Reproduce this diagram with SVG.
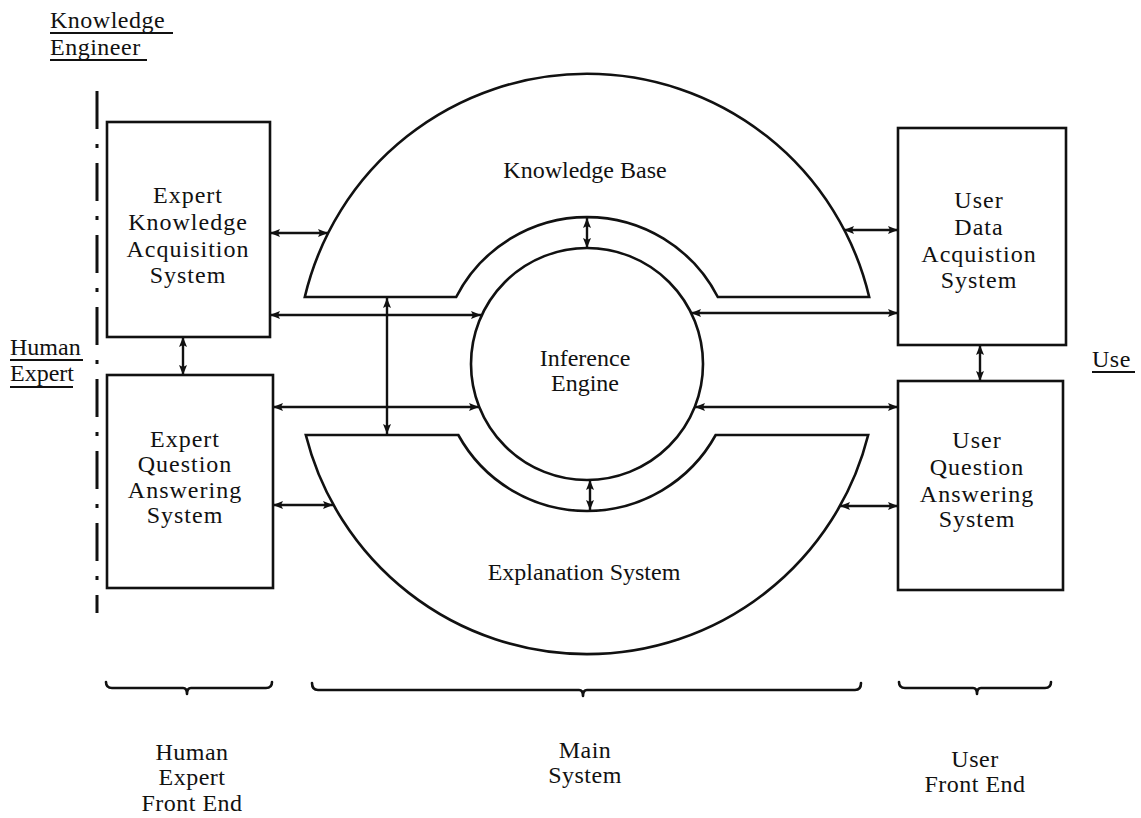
<svg xmlns="http://www.w3.org/2000/svg" width="1141" height="818" viewBox="0 0 1141 818">
<style>
.t{font-family:"Liberation Serif","Times New Roman",serif;font-size:24px;fill:#111;text-anchor:middle;letter-spacing:1px}
.l{font-family:"Liberation Serif","Times New Roman",serif;font-size:24px;fill:#111;letter-spacing:0.5px}
.s{fill:#fff;stroke:#111;stroke-width:2.6}
.c{fill:none;stroke:#111;stroke-width:2.4}
.u{stroke:#111;stroke-width:2}
.b{fill:none;stroke:#111;stroke-width:2.6;stroke-linecap:round;stroke-linejoin:round}
</style>
<defs>
<marker id="ah" viewBox="0 0 10 8" refX="10" refY="4" markerWidth="10" markerHeight="8" markerUnits="userSpaceOnUse" orient="auto-start-reverse">
<path d="M0,0 L10,4 L0,8 L2,4 z" fill="#111"/>
</marker>
</defs>
<rect width="1141" height="818" fill="#fff"/>

<g id="knowledge-engineer">
<text class="l" x="50" y="28">Knowledge</text>
<text class="l" x="50" y="55">Engineer</text>
<line class="u" x1="50" y1="33" x2="173" y2="33"/>
<line class="u" x1="50" y1="60" x2="147" y2="60"/>
</g>

<g id="human-expert">
<text class="l" x="10" y="355" style="letter-spacing:0">Human</text>
<text class="l" x="10" y="381" style="letter-spacing:0">Expert</text>
<line class="u" x1="10" y1="360" x2="83" y2="360"/>
<line class="u" x1="10" y1="387" x2="73" y2="387"/>
</g>

<g id="user-label">
<text class="l" x="1092" y="367">Use</text>
<line class="u" x1="1092" y1="372" x2="1135" y2="372"/>
</g>

<g id="boundary">
<line x1="97" y1="91" x2="97" y2="613" stroke="#111" stroke-width="3" stroke-dasharray="38 15 4 15"/>
</g>

<g id="expert-knowledge-acquisition">
<rect class="s" x="107" y="122" width="163" height="215"/>
<text class="t" x="188" y="203">Expert</text>
<text class="t" x="188" y="230">Knowledge</text>
<text class="t" x="188" y="257">Acquisition</text>
<text class="t" x="188" y="283">System</text>
</g>

<g id="expert-question-answering">
<rect class="s" x="107" y="375" width="166" height="213"/>
<text class="t" x="185" y="447">Expert</text>
<text class="t" x="185" y="472">Question</text>
<text class="t" x="185" y="498">Answering</text>
<text class="t" x="185" y="523">System</text>
</g>

<g id="user-data-acquisition">
<rect class="s" x="898" y="128" width="168" height="217"/>
<text class="t" x="979" y="208">User</text>
<text class="t" x="979" y="235">Data</text>
<text class="t" x="979" y="262">Acquistion</text>
<text class="t" x="979" y="288">System</text>
</g>

<g id="user-question-answering">
<rect class="s" x="898" y="381" width="165" height="209"/>
<text class="t" x="977" y="448">User</text>
<text class="t" x="977" y="475">Question</text>
<text class="t" x="977" y="502">Answering</text>
<text class="t" x="977" y="527">System</text>
</g>

<g id="knowledge-base">
<path class="s" d="M304.8,297 A290,290 0 0 1 869.2,297 L717.8,297 A147,147 0 0 0 456.2,297 Z"/>
<text class="t" x="585" y="178" style="letter-spacing:0">Knowledge Base</text>
</g>

<g id="inference-engine">
<circle class="s" cx="587" cy="364" r="116"/>
<text class="t" x="585" y="366" style="letter-spacing:0">Inference</text>
<text class="t" x="585" y="391" style="letter-spacing:0">Engine</text>
</g>

<g id="explanation-system">
<path class="s" d="M305.8,435 L458.3,435 A147,147 0 0 0 715.7,435 L868.2,435 A290,290 0 0 1 305.8,435 Z"/>
<text class="t" x="584" y="580" style="letter-spacing:0">Explanation System</text>
</g>

<g id="connectors" class="c" marker-start="url(#ah)" marker-end="url(#ah)">
<line x1="270" y1="233" x2="328" y2="233" marker-start="url(#ah)" marker-end="url(#ah)"/>
<line x1="270" y1="315" x2="481" y2="315" marker-start="url(#ah)" marker-end="url(#ah)"/>
<line x1="273" y1="407" x2="479" y2="407" marker-start="url(#ah)" marker-end="url(#ah)"/>
<line x1="273" y1="505" x2="333" y2="505" marker-start="url(#ah)" marker-end="url(#ah)"/>
<line x1="183" y1="337" x2="183" y2="375" marker-start="url(#ah)" marker-end="url(#ah)"/>
<line x1="387" y1="298" x2="387" y2="434" marker-start="url(#ah)" marker-end="url(#ah)"/>
<line x1="587" y1="218" x2="587" y2="248" marker-start="url(#ah)" marker-end="url(#ah)"/>
<line x1="590" y1="480" x2="590" y2="510" marker-start="url(#ah)" marker-end="url(#ah)"/>
<line x1="844" y1="230" x2="898" y2="230" marker-start="url(#ah)" marker-end="url(#ah)"/>
<line x1="691" y1="313" x2="898" y2="313" marker-start="url(#ah)" marker-end="url(#ah)"/>
<line x1="695" y1="407" x2="898" y2="407" marker-start="url(#ah)" marker-end="url(#ah)"/>
<line x1="840" y1="506" x2="898" y2="506" marker-start="url(#ah)" marker-end="url(#ah)"/>
<line x1="980" y1="345" x2="980" y2="381" marker-start="url(#ah)" marker-end="url(#ah)"/>
</g>

<g id="brace-human-expert-front-end">
<path class="b" d="M106,682 Q106,688 112,688 L183,688 Q187,688 187,694 Q187,688 191,688 L266,688 Q272,688 272,682"/>
<text class="t" x="192" y="760" style="letter-spacing:0.5px">Human</text>
<text class="t" x="192" y="785" style="letter-spacing:0.5px">Expert</text>
<text class="t" x="192" y="811" style="letter-spacing:0.5px">Front End</text>
</g>

<g id="brace-main-system">
<path class="b" d="M312,683 Q312,690 318,690 L579,690 Q583,690 583,696 Q583,690 587,690 L855,690 Q861,690 861,683"/>
<text class="t" x="585" y="758" style="letter-spacing:0.5px">Main</text>
<text class="t" x="585" y="783" style="letter-spacing:0.5px">System</text>
</g>

<g id="brace-user-front-end">
<path class="b" d="M899,682 Q899,688 905,688 L973,688 Q977,688 977,694 Q977,688 981,688 L1045,688 Q1051,688 1051,682"/>
<text class="t" x="975" y="767" style="letter-spacing:0.5px">User</text>
<text class="t" x="975" y="792" style="letter-spacing:0.5px">Front End</text>
</g>
</svg>
